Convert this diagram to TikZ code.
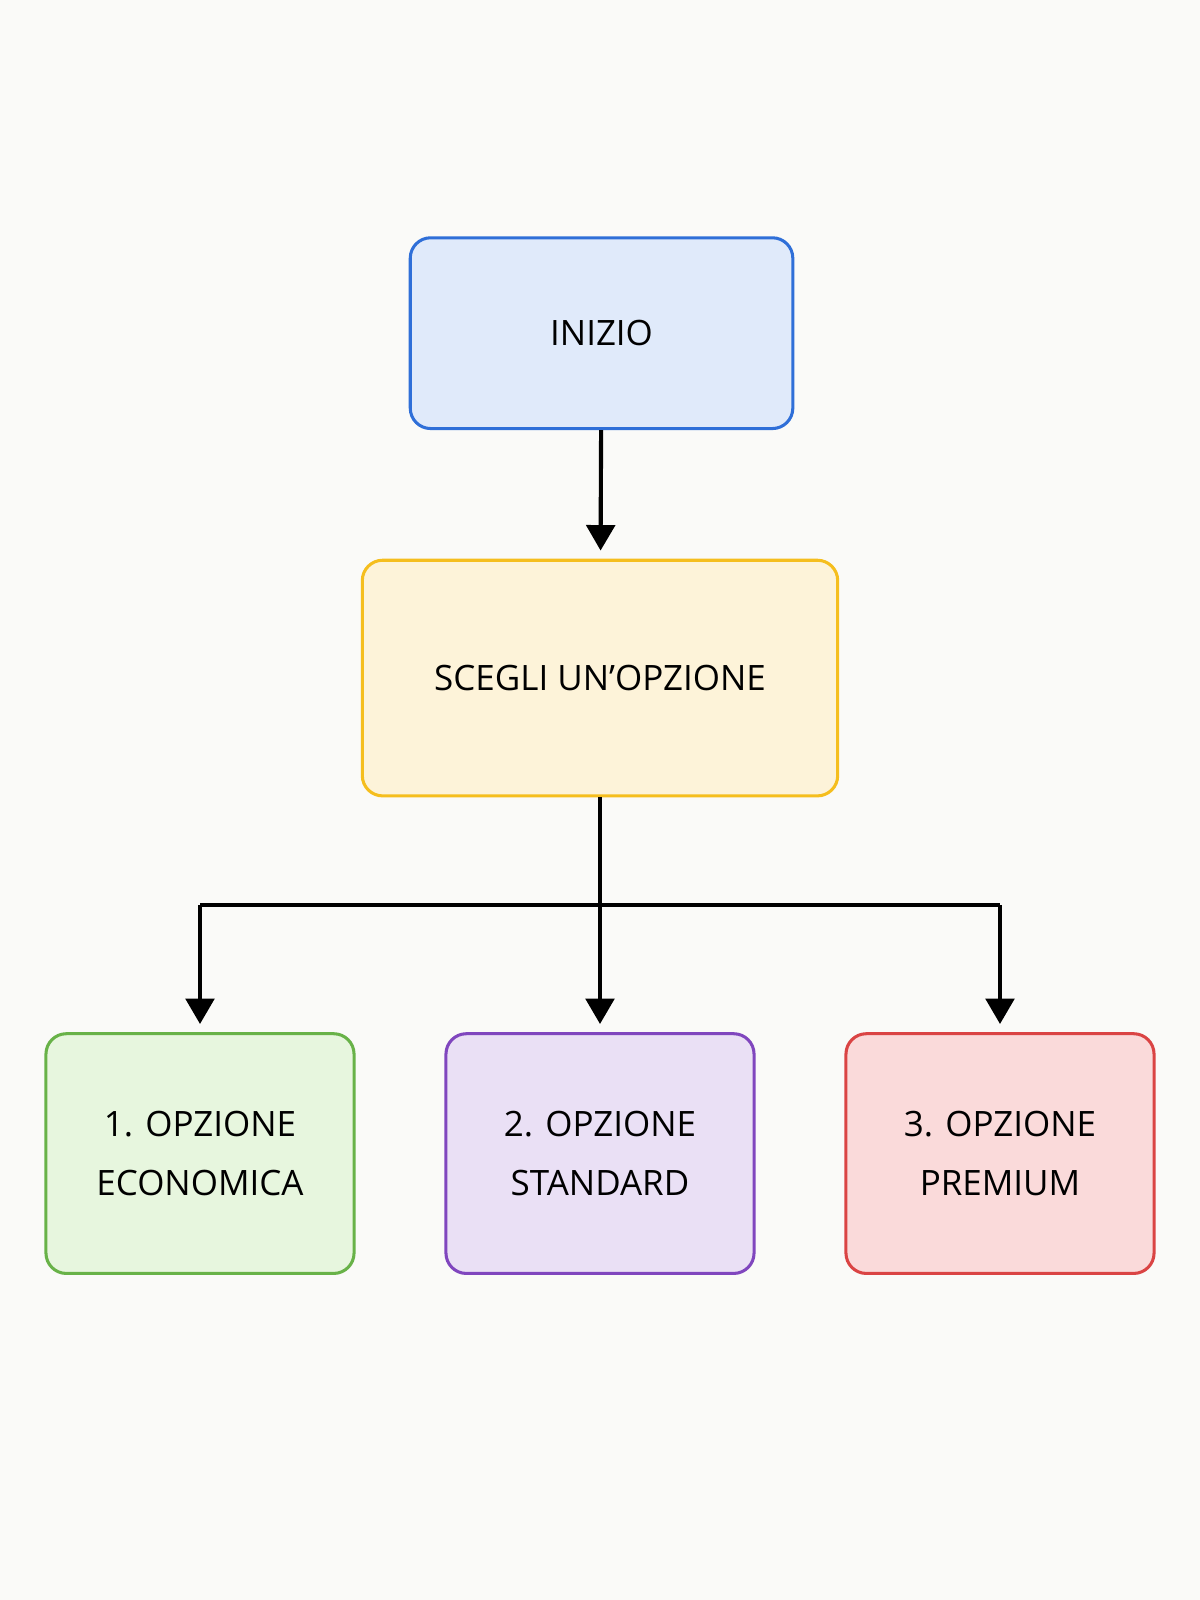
\documentclass[tikz,border=0pt]{standalone}
\usepackage{fontspec}
\setmainfont{Open Sans}
\usetikzlibrary{arrows.meta}
\definecolor{bg}{HTML}{FAFAF8}
\begin{document}
\begin{tikzpicture}[x=0.02cm,y=-0.02cm,
  box/.style={draw, line width=1.7pt, rounded corners=0.4cm, align=center, font=\fontsize{19.5pt}{33pt}\selectfont, inner sep=0pt},
  arr/.style={line width=2.3pt, -{Triangle[length=0.5cm,width=0.56cm]}}]
\fill[bg] (0,0) rectangle (1176,1568);
\useasboundingbox (0,0) rectangle (1176,1568);
\node[box, draw={rgb,255:red,47;green,111;blue,216}, fill={rgb,255:red,224;green,234;blue,250}, minimum width=7.5cm, minimum height=3.74cm] (a) at (589.5,326.5) {INIZIO};
\node[box, draw={rgb,255:red,245;green,190;blue,30}, fill={rgb,255:red,253;green,243;blue,217}, minimum width=9.32cm, minimum height=4.62cm] (b) at (588,664.5) {SCEGLI UN’OPZIONE};
\node[box, draw={rgb,255:red,104;green,178;blue,72}, fill={rgb,255:red,231;green,246;blue,222}, minimum width=6.04cm, minimum height=4.7cm] (c1) at (196,1130.5) {1. OPZIONE\\ECONOMICA};
\node[box, draw={rgb,255:red,128;green,70;blue,190}, fill={rgb,255:red,234;green,224;blue,245}, minimum width=6.04cm, minimum height=4.7cm] (c2) at (588,1130.5) {2. OPZIONE\\STANDARD};
\node[box, draw={rgb,255:red,218;green,68;blue,68}, fill={rgb,255:red,250;green,218;blue,218}, minimum width=6.04cm, minimum height=4.7cm] (c3) at (980,1130.5) {3. OPZIONE\\PREMIUM};
\coordinate (j) at (588,887);
\draw[arr, shorten >=0.16cm] (a) -- (b);
\draw[line width=2.3pt] (b.south) -- (j);
\draw[line width=2.3pt] (c1.north |- j) -- (c3.north |- j);
\foreach \n in {c1,c2,c3} \draw[arr, shorten >=0.16cm] (\n.north |- j) -- (\n.north);
\end{tikzpicture}
\end{document}
